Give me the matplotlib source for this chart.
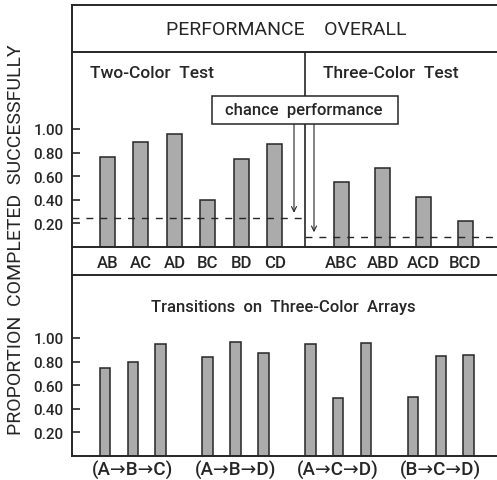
import matplotlib
matplotlib.use("Agg")
import matplotlib.pyplot as plt
from matplotlib.lines import Line2D
from matplotlib.patches import Rectangle

# ---- data ----
two_color = ["AB", "AC", "AD", "BC", "BD", "CD"]
two_vals = [0.76, 0.89, 0.96, 0.40, 0.75, 0.87]
three_color = ["ABC", "ABD", "ACD", "BCD"]
three_vals = [0.55, 0.67, 0.42, 0.22]
chance_two = 0.25
chance_three = 0.085
transitions = ["(A→B→C)", "(A→B→D)", "(A→C→D)", "(B→C→D)"]
trans_vals = [[0.75, 0.80, 0.95],
              [0.84, 0.97, 0.87],
              [0.95, 0.49, 0.96],
              [0.50, 0.85, 0.86]]
yticks = [0.20, 0.40, 0.60, 0.80, 1.00]

# ---- layout (pixels of the 497x481 canvas) ----
W, H = 497, 481
X0, X1, XDIV = 72, 497, 305
Y_TOP, Y_HEAD, Y_BASE1, Y_ROW, Y_BASE2 = 6, 53, 248, 276, 457
UNIT = 118                      # px per 1.0 proportion
INK = "#262626"
BAR = "#ababab"
plt.rcParams["font.family"] = ["Roboto", "DejaVu Sans"]
plt.rcParams["font.weight"] = "medium"


def fx(px):
    return px / W


def fy(py):
    return 1 - py / H


fig = plt.figure(figsize=(W / 100, H / 100), dpi=100)


def frame_line(x0, y0, x1, y1, lw=1.4):
    fig.add_artist(Line2D([fx(x0), fx(x1)], [fy(y0), fy(y1)],
                          transform=fig.transFigure, color=INK, lw=lw))


def style_axes(ax, ytop_px, ybot_px):
    ax.set_xlim(X0, X1)
    ax.set_ylim(0, (ybot_px - ytop_px) / UNIT)
    for s in ("right", "top", "bottom", "left"):
        ax.spines[s].set_visible(False)
    ax.set_xticks([])
    ax.set_yticks(yticks)
    ax.set_yticklabels([f"{v:.2f}" for v in yticks])
    ax.tick_params(axis="y", direction="in", length=6, width=1.2, color=INK,
                   labelcolor=INK, labelsize=11, pad=6)
    ax.patch.set_alpha(0)


# ---- top panel ----
ax1 = fig.add_axes([fx(X0), fy(Y_BASE1), fx(X1) - fx(X0), (Y_BASE1 - Y_HEAD) / H])
style_axes(ax1, Y_HEAD, Y_BASE1)
x_two = [107.5 + 33.5 * i for i in range(len(two_color))]
x_three = [341.5 + 41.2 * i for i in range(len(three_color))]
ax1.bar(x_two, two_vals, width=15, color=BAR, edgecolor=INK, linewidth=1.1)
ax1.bar(x_three, three_vals, width=15, color=BAR, edgecolor=INK, linewidth=1.1)
ax1.plot([X0, XDIV], [chance_two] * 2, color=INK, lw=1, dashes=(5, 5))
ax1.plot([XDIV, X1], [chance_three] * 2, color=INK, lw=1, dashes=(5, 5))
ax1.axvline(XDIV, color=INK, lw=1.2)

for x, lab in zip(x_two + x_three, two_color + three_color):
    ax1.text(x, -(263 - Y_BASE1) / UNIT, lab, ha="center", va="center",
             fontsize=12, color=INK, clip_on=False)

ax1.text(90, (Y_BASE1 - 74) / UNIT, "Two-Color  Test", ha="left", va="center",
         fontsize=12.5, color=INK)
ax1.text(323, (Y_BASE1 - 74) / UNIT, "Three-Color  Test", ha="left", va="center",
         fontsize=12.5, color=INK)

# chance performance callout
box_top, box_bot = 97, 125
ax1.add_patch(Rectangle((212, (Y_BASE1 - box_bot) / UNIT), 398 - 212,
                        (box_bot - box_top) / UNIT, facecolor="white",
                        edgecolor=INK, lw=1.1, zorder=5))
ax1.text(304, (Y_BASE1 - 111) / UNIT, "chance  performance", ha="center",
         va="center", fontsize=12, color=INK, zorder=6)
for xa, yv in ((294, chance_two + 0.04), (314, chance_three + 0.04)):
    ax1.annotate("", xy=(xa, yv), xytext=(xa, (Y_BASE1 - box_bot) / UNIT),
                 arrowprops=dict(arrowstyle="->", color=INK, lw=0.8,
                                 mutation_scale=9, shrinkA=0, shrinkB=0))

# ---- bottom panel ----
ax2 = fig.add_axes([fx(X0), fy(Y_BASE2), fx(X1) - fx(X0), (Y_BASE2 - Y_ROW) / H])
style_axes(ax2, Y_ROW, Y_BASE2)
for g, (lab, vals) in enumerate(zip(transitions, trans_vals)):
    xs = [105 + 102.7 * g + 27.8 * j for j in range(len(vals))]
    ax2.bar(xs, vals, width=10.5, color=BAR, edgecolor=INK, linewidth=1.1)
    ax2.text(xs[1], -(470 - Y_BASE2) / UNIT, lab, ha="center", va="center",
             fontsize=13.5, color=INK, clip_on=False)
ax2.text(283, (Y_BASE2 - 308) / UNIT, "Transitions  on  Three-Color  Arrays",
         ha="center", va="center", fontsize=12, color=INK)

# ---- frame ----
frame_line(X0, Y_TOP, X1, Y_TOP)
frame_line(X0, Y_HEAD, X1, Y_HEAD)
frame_line(X0, Y_BASE1, X1, Y_BASE1)
frame_line(X0, Y_ROW, X1, Y_ROW)
frame_line(X0, Y_BASE2, X1, Y_BASE2)
frame_line(X0, Y_TOP, X0, Y_BASE2)

fig.text(fx(286), fy(30), "PERFORMANCE    OVERALL", ha="center", va="center",
         fontsize=14, fontweight="normal", color=INK)
fig.text(fx(16), fy(240), "PROPORTION  COMPLETED  SUCCESSFULLY", rotation=90,
         ha="center", va="center", fontsize=14, fontweight="normal", color=INK)

fig.savefig("out.png", dpi=100)
